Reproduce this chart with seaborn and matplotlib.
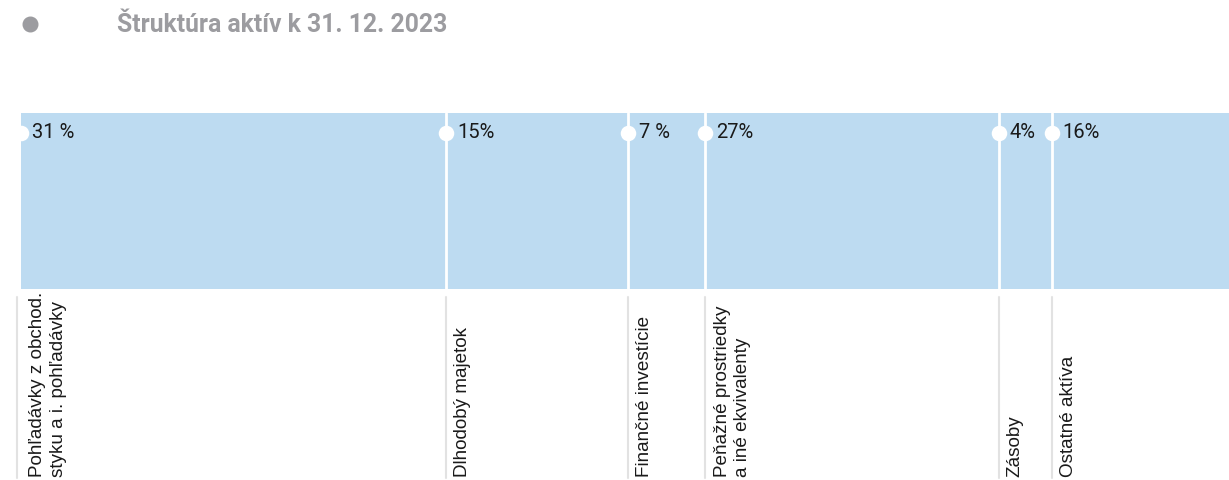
import matplotlib
matplotlib.use("Agg")
import matplotlib.pyplot as plt
import seaborn as sns
import pandas as pd
import numpy as np

# ---- data ----
categories = [
    "Pohľadávky z obchod.\nstyku a i. pohľadávky",
    "Dlhodobý majetok",
    "Finančné investície",
    "Peňažné prostriedky\na iné ekvivalenty",
    "Zásoby",
    "Ostatné aktíva",
]
shares = [35.2, 15.1, 6.4, 24.3, 4.4, 14.7]          # drawn segment widths
pct_labels = ["31 %", "15%", "7 %", "27%", "4%", "16%"]
title = "Štruktúra aktív k 31. 12. 2023"

BAR = "#bddbf1"
GREY = "#9c9ca0"

sns.set_theme(style="white")
plt.rcParams["font.family"] = ["Liberation Sans", "DejaVu Sans"]

fig = plt.figure(figsize=(12.29, 4.8), dpi=100)
W, H = 1229, 480
ax = fig.add_axes([21 / W, 1 - 289 / H, 1 - 21 / W, 176 / H])

starts = np.concatenate([[0], np.cumsum(shares)[:-1]])
df = pd.DataFrame({"cat": categories, "share": shares, "start": starts, "row": ["a"] * len(shares)})

for _, r in df.iterrows():
    sns.barplot(x=[r["share"]], y=[r["row"]], left=r["start"], orient="h",
                color=BAR, width=1.0, ax=ax, edgecolor="none", linewidth=0,
                saturation=1)

ax.set_xlim(0, sum(shares))
ax.set_ylim(0.5, -0.5)
ax.axis("off")

xt = ax.get_xaxis_transform()
# white separators
for s in starts[1:]:
    ax.plot([s, s], [0, 1], color="white", lw=2, transform=xt, zorder=3)

# white dots and percentage labels
ydot = (289 - 133) / 176
ax.scatter(starts, [ydot] * len(starts), s=125, color="white", transform=xt,
           zorder=4, clip_on=False, linewidths=0)
for s, lab in zip(starts, pct_labels):
    ax.annotate(lab, (s, ydot), xycoords=xt, xytext=(8, 0), textcoords="offset points",
                ha="left", va="center", fontsize=14.5, color="#1a1a1a",
                family=["Roboto", "DejaVu Sans"])

# grey guide lines and category labels below
y0 = (289 - 297) / 176
y1 = (289 - 478) / 176
for i, (s, cat) in enumerate(zip(starts, categories)):
    xs = s if i > 0 else s - 0.3
    ax.plot([xs, xs], [y0, y1], color="#e2e2e2", lw=1.5, transform=xt, clip_on=False)
    ax.annotate(cat, (s, y1 + 0.005), xycoords=xt, xytext=(6, 0), textcoords="offset points",
                rotation=90, ha="left", va="bottom", fontsize=13.6, color="#1a1a1a",
                linespacing=1.3, annotation_clip=False)

# title
fig.text(117 / W, 1 - 25 / H, title, ha="left", va="center", fontsize=17.8,
         fontweight="bold", color=GREY, family=["Roboto", "DejaVu Sans"])
fig.add_artist(matplotlib.lines.Line2D([30 / W], [1 - 24 / H], marker="o", markersize=10.5,
                                       color=GREY, transform=fig.transFigure, linestyle="none"))

fig.savefig("out.png", dpi=100)
